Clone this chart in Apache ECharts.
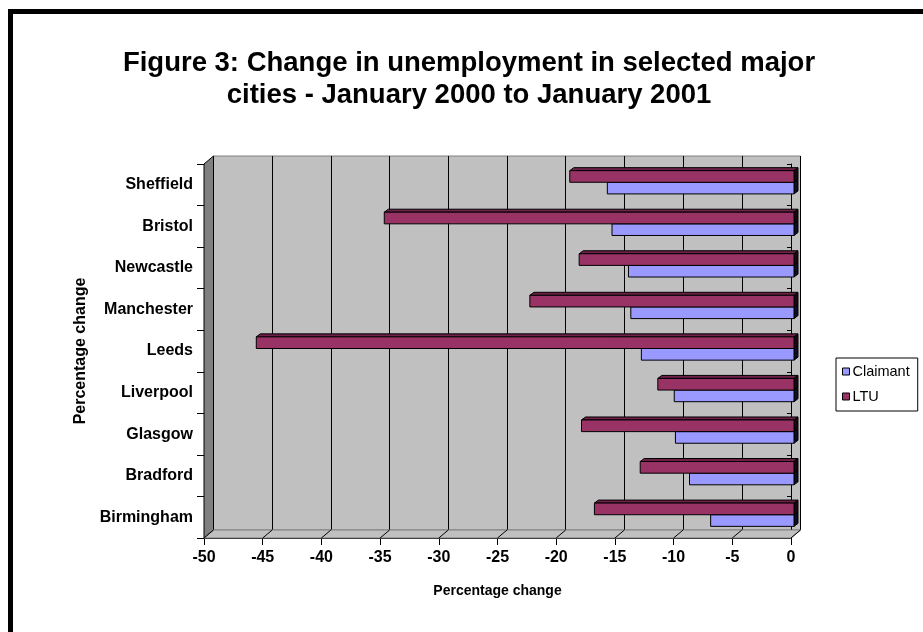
<!DOCTYPE html>
<html>
<head>
<meta charset="utf-8">
<script src="https://cdn.jsdelivr.net/npm/echarts@6/dist/echarts.min.js"></script>
<style>
html,body{margin:0;padding:0;background:#fff;}
#chart{width:923px;height:632px;}
</style>
</head>
<body>
<div id="chart"></div>
<script>
// ---- data ----
const categories = ['Birmingham','Bradford','Glasgow','Liverpool','Leeds','Manchester','Newcastle','Bristol','Sheffield'];
const claimant = [-7.1, -8.9, -10.1, -10.2, -13.0, -13.9, -14.1, -15.5, -15.9];
const ltu = [-17.0, -13.1, -18.1, -11.6, -45.8, -22.5, -18.3, -34.9, -19.1];
const seriesNames = ['Claimant', 'LTU'];
const xMin = -50, xMax = 0, xStep = 5;

// ---- layout ----
const FONT = '"Liberation Sans", Arial, sans-serif';
const front = {left: 204, top: 164, width: 587, height: 374};
const depth = {dx: 9.5, dy: -8};
const barShift = {dx: 3, dy: -2.5};
const face = {dx: 4, dy: -3};

const chart = echarts.init(document.getElementById('chart'));

function makeRender(which, colors) {
  return function (params, api) {
    const v = api.value(0), c = api.value(1);
    const p0 = api.coord([0, c]);
    const p1 = api.coord([v, c]);
    const band = api.size([0, 1])[1];
    const h = band * 0.28;
    const cy = p0[1] + barShift.dy;
    const yTop = which === 0 ? cy : cy - h;
    const x0 = p1[0] + barShift.dx, x1 = p0[0] + barShift.dx;
    return {
      type: 'group',
      children: [
        {type: 'polygon', shape: {points: [[x0, yTop], [x0 + face.dx, yTop + face.dy], [x1 + face.dx, yTop + face.dy], [x1, yTop]]},
          style: {fill: colors.top, stroke: '#000', lineWidth: 1}},
        {type: 'polygon', shape: {points: [[x1, yTop], [x1 + face.dx, yTop + face.dy], [x1 + face.dx, yTop + h + face.dy], [x1, yTop + h]]},
          style: {fill: colors.side, stroke: '#000', lineWidth: 1}},
        {type: 'rect', shape: {x: x0, y: yTop, width: x1 - x0, height: h},
          style: {fill: colors.front, stroke: '#000', lineWidth: 1}}
      ]
    };
  };
}

const labelStyle = {fontFamily: FONT, fontWeight: 'bold', fontSize: 16, color: '#000'};

const option = {
  animation: false,
  backgroundColor: '#fff',
  textStyle: {fontFamily: FONT},
  title: {
    text: 'Figure 3: Change in unemployment in selected major\ncities - January 2000 to January 2001',
    left: 464, top: 42, textAlign: 'center',
    textStyle: {fontFamily: FONT, fontWeight: 'bold', fontSize: 27.5, lineHeight: 32, color: '#000'}
  },
  legend: {
    orient: 'vertical', left: 836, top: 358,
    padding: [6, 8, 7, 6], itemGap: 10, itemWidth: 7, itemHeight: 7,
    borderColor: '#000', borderWidth: 1,
    icon: 'rect',
    itemStyle: {borderColor: '#000', borderWidth: 1},
    textStyle: {fontFamily: FONT, fontSize: 14.5, color: '#000', padding: [0, 0, 0, -2]},
    data: seriesNames
  },
  grid: [
    {left: front.left + depth.dx, top: front.top + depth.dy, width: front.width, height: front.height,
      show: true, backgroundColor: '#C0C0C0', borderColor: '#808080', borderWidth: 1},
    {left: front.left, top: front.top, width: front.width, height: front.height, show: false}
  ],
  xAxis: [
    {gridIndex: 0, type: 'value', min: xMin, max: xMax, interval: xStep,
      axisLine: {show: false}, axisTick: {show: false}, axisLabel: {show: false},
      splitLine: {show: true, lineStyle: {color: '#000', width: 1}}},
    {gridIndex: 1, type: 'value', min: xMin, max: xMax, interval: xStep,
      axisLine: {show: true, onZero: false, lineStyle: {color: '#000', width: 1}},
      axisTick: {show: true, length: 7, lineStyle: {color: '#000'}},
      axisLabel: Object.assign({margin: 12}, labelStyle),
      splitLine: {show: false},
      name: 'Percentage change', nameLocation: 'middle', nameGap: 46,
      nameTextStyle: {fontFamily: FONT, fontWeight: 'bold', fontSize: 14, color: '#000'}}
  ],
  yAxis: [
    {gridIndex: 0, type: 'category', data: categories, show: false},
    {gridIndex: 1, type: 'category', data: categories, position: 'left',
      axisLine: {show: true, onZero: false, lineStyle: {color: '#000'}},
      axisTick: {show: true, length: 7, lineStyle: {color: '#000'}},
      axisLabel: Object.assign({margin: 11}, labelStyle),
      name: 'Percentage change', nameLocation: 'middle', nameRotate: 90, nameGap: 115,
      nameTextStyle: {fontFamily: FONT, fontWeight: 'bold', fontSize: 16, color: '#000'}},
    {gridIndex: 1, type: 'category', data: categories, position: 'right',
      axisLine: {show: true, onZero: false, lineStyle: {color: '#000'}},
      axisTick: {show: true, inside: true, length: 4, lineStyle: {color: '#000'}},
      axisLabel: {show: false}}
  ],
  series: [
    {name: seriesNames[0], type: 'custom', xAxisIndex: 1, yAxisIndex: 1, z: 3,
      itemStyle: {color: '#9999FF'},
      encode: {x: 0, y: 1},
      renderItem: makeRender(0, {front: '#9999FF', top: '#7A7ACC', side: '#0d0d26'}),
      data: claimant.map((v, i) => [v, i])},
    {name: seriesNames[1], type: 'custom', xAxisIndex: 1, yAxisIndex: 1, z: 4,
      itemStyle: {color: '#993366'},
      encode: {x: 0, y: 1},
      renderItem: makeRender(1, {front: '#993366', top: '#6E2048', side: '#1a0610'}),
      data: ltu.map((v, i) => [v, i])}
  ]
};
chart.setOption(option);

// ---- 3D wall / floor decoration, placed through the axis scales ----
const L = front.left, T = front.top, B = front.top + front.height;
const xr = chart.convertToPixel({xAxisIndex: 1}, xMax);
const graphics = [];
graphics.push({type: 'polygon', z: 1, shape: {points: [[L, T], [L + depth.dx, T + depth.dy], [L + depth.dx, B + depth.dy], [L, B]]},
  style: {fill: '#808080', stroke: '#000', lineWidth: 1}});
graphics.push({type: 'polygon', z: 1, shape: {points: [[L, B], [L + depth.dx, B + depth.dy], [xr + depth.dx, B + depth.dy], [xr, B]]},
  style: {fill: '#C0C0C0', stroke: '#808080', lineWidth: 1}});
for (let v = xMin; v <= xMax; v += xStep) {
  const px = chart.convertToPixel({xAxisIndex: 1}, v);
  graphics.push({type: 'line', z: 1, shape: {x1: px, y1: B, x2: px + depth.dx, y2: B + depth.dy},
    style: {stroke: '#000', lineWidth: 1}});
}
graphics.push({type: 'rect', z: 10, shape: {x: 10.5, y: 11.5, width: 1000, height: 1000},
  style: {fill: 'none', stroke: '#000', lineWidth: 5}});
chart.setOption({graphic: graphics});
</script>
</body>
</html>
